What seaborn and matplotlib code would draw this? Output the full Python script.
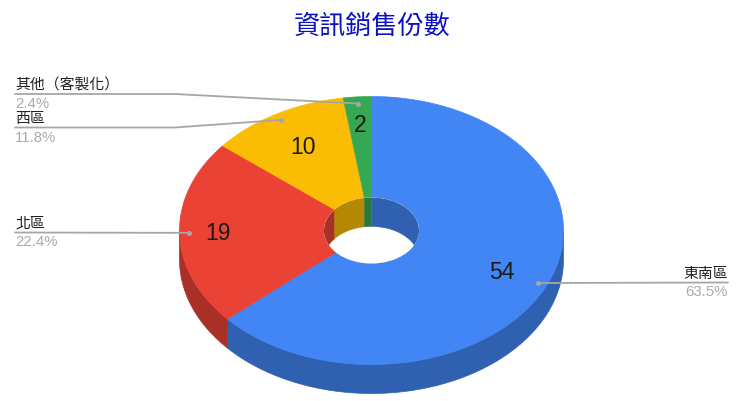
import numpy as np
import matplotlib
matplotlib.use("Agg")
import matplotlib.pyplot as plt
from matplotlib.patches import Ellipse, Polygon
import seaborn as sns

# Data
regions = ["東南區", "北區", "西區", "其他（客製化）"]
sold = [54, 19, 10, 2]
hex_colors = ["#4285f4", "#ea4335", "#fbbc04", "#34a853"]

sns.set_theme(style="white")
plt.rcParams["font.family"] = ["Noto Sans CJK TC", "DejaVu Sans"]

palette = sns.color_palette(hex_colors)
dark = [tuple(c * 0.72 for c in col) for col in palette]

# Pie geometry in pixels
cx, cy = 371.5, 231.5
rx, ry = 192, 134
hole_rx, hole_ry = 47.5, 33
depth = 29


def ring_xy(theta, a, b, dy=0):
    return np.column_stack([cx + a * np.sin(theta), cy + dy - b * np.cos(theta)])


def arc(start, end):
    n = max(int(abs(end - start) * 80), 2)
    return np.linspace(start, end, n)


fig, ax = plt.subplots(figsize=(7.4, 4.02), dpi=100)
ax.set_position([0, 0, 1, 1])
ax.set_xlim(0, 740)
ax.set_ylim(402, 0)
ax.axis("off")

total = sum(sold)
edges = 2 * np.pi * np.concatenate([[0], np.cumsum(sold)]) / total
mids = (edges[:-1] + edges[1:]) / 2

# Outer rim, only the front half can be seen
for i in range(len(sold)):
    s = max(edges[i], np.pi / 2)
    e = min(edges[i + 1], 3 * np.pi / 2)
    if e > s:
        t = arc(s, e)
        pts = np.vstack([ring_xy(t, rx, ry), ring_xy(t[::-1], rx, ry, depth)])
        ax.add_patch(Polygon(pts, fc=dark[i], ec=dark[i], lw=0.5, zorder=1))

# Top face
for i in range(len(sold)):
    t = arc(edges[i], edges[i + 1])
    pts = np.vstack([ring_xy(t, rx, ry), ring_xy(t[::-1], hole_rx, hole_ry)])
    ax.add_patch(Polygon(pts, fc=palette[i], ec=palette[i], lw=0.5, zorder=2))

# Hole and the inner wall behind it
hole = Ellipse((cx, cy), 2 * hole_rx, 2 * hole_ry, fc="white", ec="none", zorder=3)
ax.add_patch(hole)
for i in range(len(sold)):
    for lo, hi in [(0, np.pi / 2), (3 * np.pi / 2, 2 * np.pi)]:
        s = max(edges[i], lo)
        e = min(edges[i + 1], hi)
        if e > s:
            t = arc(s, e)
            pts = np.vstack([ring_xy(t, hole_rx, hole_ry),
                             ring_xy(t[::-1], hole_rx, hole_ry, depth)])
            wall = Polygon(pts, fc=dark[i], ec=dark[i], lw=0.3, zorder=4)
            ax.add_patch(wall)
            wall.set_clip_path(hole)

# Values on the slices
value_radius = [0.745, 0.80, 0.72, 0.79]
for i, v in enumerate(sold):
    x, y = ring_xy(np.array([mids[i]]), rx * value_radius[i], ry * value_radius[i])[0]
    ax.text(x, y, str(v), fontsize=16.5, family="Liberation Sans", color="#1a1a1a",
            ha="center", va="center", zorder=6)

# Leader lines and outside labels
line_col = "#a6a6a6"
label_col = "#222222"
pct_col = "#ababab"
leaders = [(728, 728, 283.5), (15, 15, 233.5), (15, 175, 128.5), (15, 175, 95)]
name_y = [273.5, 223.5, 119, 85]
pct_y = [292.5, 242.5, 138, 103.5]
for i in range(len(sold)):
    px, py = ring_xy(np.array([mids[i]]), rx * 0.95, ry * 0.95)[0]
    end_x, knee_x, line_y = leaders[i]
    ax.plot([end_x, knee_x, px], [line_y, line_y, py], color=line_col, lw=1.3,
            solid_capstyle="round", zorder=7)
    ax.plot(px, py, "o", ms=3.6, color=line_col, mec="none", zorder=8)
    ha = "right" if end_x > cx else "left"
    ax.text(end_x, name_y[i], regions[i], fontsize=10.7, color=label_col,
            ha=ha, va="center", zorder=8)
    pct = f"{100 * sold[i] / total:.1f}%"
    ax.text(end_x, pct_y[i], pct, fontsize=10.8, family="Liberation Sans", color=pct_col,
            ha=ha, va="center", zorder=8)

ax.text(372, 26.5, "資訊銷售份數", fontsize=18.8, color="#0b10c4",
        ha="center", va="center")

fig.savefig("out.png", dpi=100)
